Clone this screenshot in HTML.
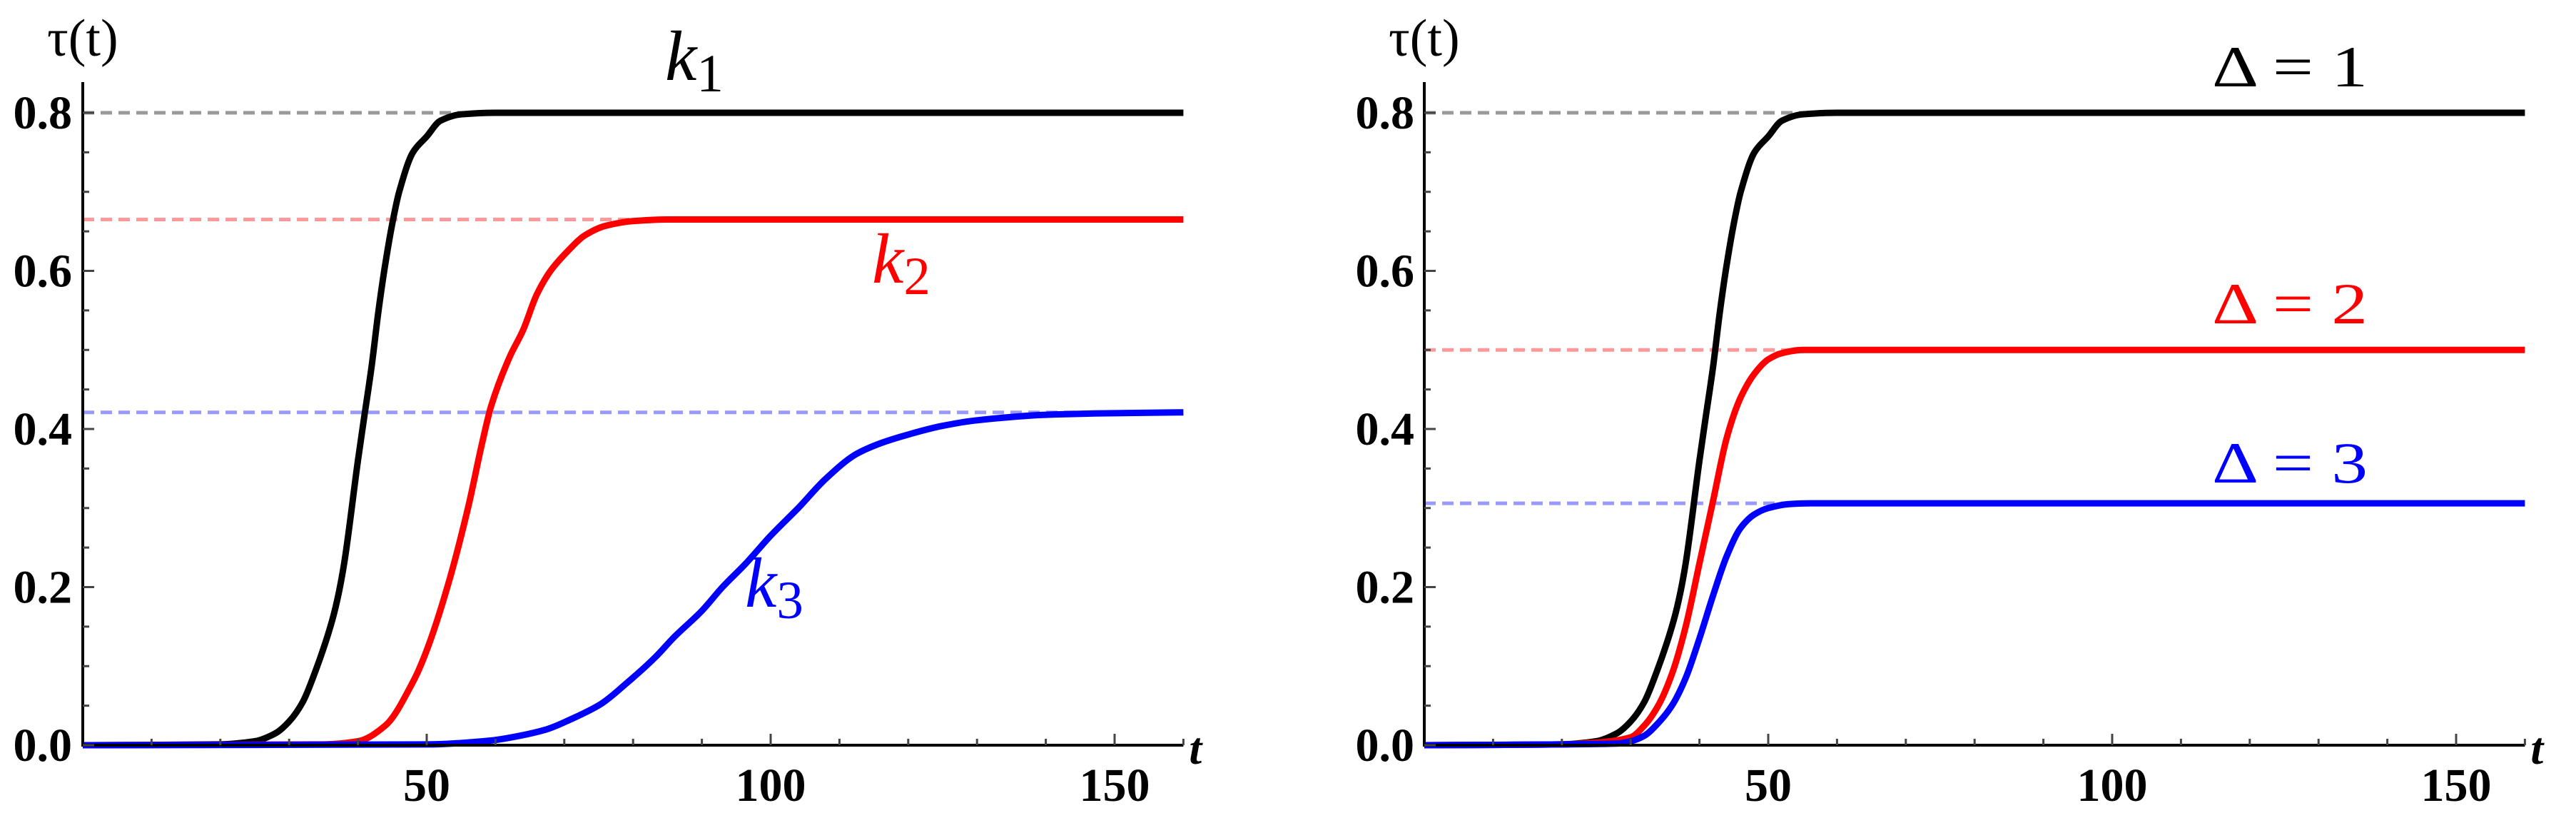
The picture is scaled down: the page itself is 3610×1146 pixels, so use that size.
<!DOCTYPE html>
<html><head><meta charset="utf-8"><style>
html,body{margin:0;padding:0;background:#fff;}
svg{display:block;}
</style></head><body>
<svg id="fig" width="3610" height="1146" xmlns="http://www.w3.org/2000/svg"></svg>
<script>
// ---- data ----
const xTicksMajor = [50, 100, 150];
const yTickLabels = ["0.0", "0.2", "0.4", "0.6", "0.8"];
const yTickValues = [0, 0.2, 0.4, 0.6, 0.8];

const k1T = [0, 20, 25, 28, 30, 32, 34, 36, 37, 38, 40, 41, 42, 43, 44, 45, 46, 48, 50, 52, 55, 60, 160];
const k1V = [0, 0.001, 0.005, 0.015, 0.03, 0.055, 0.098, 0.15, 0.184, 0.23, 0.36, 0.42, 0.48, 0.55, 0.61, 0.66, 0.70, 0.75, 0.77, 0.79, 0.798, 0.8, 0.8];
const k2T = [0, 35, 40, 44, 48, 50, 53, 56, 58, 59.4, 62, 64, 66, 68, 70.5, 73, 76, 80, 85, 160];
const k2V = [0, 0.001, 0.005, 0.025, 0.08, 0.12, 0.2, 0.3, 0.38, 0.43, 0.49, 0.525, 0.57, 0.60, 0.625, 0.645, 0.657, 0.663, 0.665, 0.665];
const k3T = [0, 50, 59.4, 63, 67.4, 71, 75.3, 79, 83.2, 86, 90, 93, 96.3, 100, 104, 108, 112.4, 116, 120, 125, 130, 140, 150, 160];
const k3V = [0, 0.001, 0.006, 0.011, 0.02, 0.033, 0.052, 0.078, 0.111, 0.137, 0.17, 0.2, 0.229, 0.265, 0.30, 0.337, 0.368, 0.382, 0.393, 0.404, 0.411, 0.418, 0.42, 0.421];

const d1T = k1T, d1V = k1V;
const d2T = [0, 20, 26, 30, 32, 34, 36, 38, 40, 42, 44, 46, 48, 50, 52, 55, 160];
const d2V = [0, 0.001, 0.004, 0.01, 0.025, 0.05, 0.09, 0.15, 0.23, 0.31, 0.39, 0.44, 0.47, 0.488, 0.496, 0.5, 0.5];
const d3T = [0, 20, 28, 30, 32, 34, 36, 38, 40, 42, 44, 46, 48, 50, 53, 56, 160];
const d3V = [0, 0.001, 0.002, 0.005, 0.012, 0.028, 0.05, 0.085, 0.135, 0.19, 0.24, 0.275, 0.292, 0.30, 0.305, 0.306, 0.306];

const leftPlateaus = [0.8, 0.665, 0.421];
const rightPlateaus = [0.8, 0.5, 0.306];

// ---- drawing ----
const NS = "http://www.w3.org/2000/svg";
const svg = document.getElementById('fig');
function el(tag, attrs, parent) {
  const e = document.createElementNS(NS, tag);
  for (const k in attrs) e.setAttribute(k, attrs[k]);
  (parent || svg).appendChild(e);
  return e;
}
const Y0 = 1044, PX_PER_UNIT_Y = 1107.5, PX_PER_T = 9.64, TMAX = 160;

function smoothPath(xs, ys) {
  const n = xs.length;
  const m = [];
  for (let i = 0; i < n; i++) {
    if (i === 0) m.push((ys[1] - ys[0]) / (xs[1] - xs[0]));
    else if (i === n - 1) m.push((ys[n - 1] - ys[n - 2]) / (xs[n - 1] - xs[n - 2]));
    else {
      const a = (ys[i] - ys[i - 1]) / (xs[i] - xs[i - 1]);
      const b = (ys[i + 1] - ys[i]) / (xs[i + 1] - xs[i]);
      m.push(a * b <= 0 ? 0 : 2 / (1 / a + 1 / b));
    }
  }
  let d = 'M' + xs[0].toFixed(1) + ',' + ys[0].toFixed(1);
  for (let i = 0; i < n - 1; i++) {
    const h = (xs[i + 1] - xs[i]) / 3;
    d += ' C' + (xs[i] + h).toFixed(1) + ',' + (ys[i] + m[i] * h).toFixed(1) + ' ' +
      (xs[i + 1] - h).toFixed(1) + ',' + (ys[i + 1] - m[i + 1] * h).toFixed(1) + ' ' +
      xs[i + 1].toFixed(1) + ',' + ys[i + 1].toFixed(1);
  }
  return d;
}

function panel(name, x0, labelX, series, plateaus) {
  const g = el('g', {});
  
  
  const sx = t => x0 + t * PX_PER_T;
  const sy = v => Y0 - v * PX_PER_UNIT_Y;
  const colors = ['#000', '#ff0000', '#0000ff'];
  const dashCols = ['#999999', '#ff9999', '#9999ff'];
  plateaus.forEach((p, i) => {
    const l = el('line', {x1: sx(0), x2: sx(TMAX), y1: sy(p), y2: sy(p), stroke: dashCols[i], 'stroke-width': 5, 'stroke-dasharray': '16 9'}, g);
    
    
  });
  series.forEach((s, i) => {
    const d = smoothPath(s[0].map(sx), s[1].map(sy));
    const p = el('path', {d: d, fill: 'none', stroke: colors[i], 'stroke-width': 9, 'stroke-linejoin': 'round'}, g);
    
    
  });
  const ax = el('line', {x1: x0, x2: x0, y1: 115, y2: Y0 + 2, stroke: '#000', 'stroke-width': 4}, g);
  
  
  const axx = el('line', {x1: x0 - 2, x2: sx(TMAX), y1: Y0, y2: Y0, stroke: '#000', 'stroke-width': 4}, g);
  
  
  for (let v = 0; v <= 0.801; v += 0.05) {
    const major = Math.abs(v / 0.2 - Math.round(v / 0.2)) < 1e-6;
    const tk = el('line', {x1: x0, x2: x0 + (major ? 16 : 9), y1: sy(v), y2: sy(v), stroke: '#444', 'stroke-width': 3}, g);
    
    
  }
  for (let t = 10; t <= TMAX; t += 10) {
    const major = t % 50 === 0;
    const tk = el('line', {x1: sx(t), x2: sx(t), y1: Y0, y2: Y0 - (major ? 16 : 9), stroke: '#444', 'stroke-width': 3}, g);
    
    
  }
  const font = '"Liberation Serif", serif';
  yTickValues.forEach((v, i) => {
    const tx = el('text', {x: labelX, y: sy(v) + 22, 'text-anchor': 'end', 'font-family': font, 'font-weight': 'bold', 'font-size': 66}, g);
    tx.textContent = yTickLabels[i];
    
    
  });
  xTicksMajor.forEach(t => {
    const tx = el('text', {x: sx(t), y: Y0 + 78, 'text-anchor': 'middle', 'font-family': font, 'font-weight': 'bold', 'font-size': 66}, g);
    tx.textContent = t;
    
    
  });
  const yt = el('text', {x: x0 - 50, y: 78, 'font-family': font, 'font-size': 74}, g);
  yt.textContent = 'τ(t)';
  
  
  const xt = el('text', {x: sx(TMAX) + 8, y: Y0 + 26, 'font-family': font, 'font-style': 'italic', 'font-weight': 'bold', 'font-size': 64}, g);
  xt.textContent = 't';
  
  
  return g;
}

const gl = panel('left-panel', 116, 101, [[k1T, k1V], [k2T, k2V], [k3T, k3V]], leftPlateaus);
const gr = panel('right-panel', 1996, 1982, [[d1T, d1V], [d2T, d2V], [d3T, d3V]], rightPlateaus);

function label(g, name, x, y, color, main, sub, size) {
  const t = el('text', {x: x, y: y, fill: color, 'font-family': '"Liberation Serif", serif', 'font-size': size}, g);
  
  
  const a = el('tspan', {'font-style': 'italic'}, t); a.textContent = main;
  if (sub) { const b = el('tspan', {dy: 16, 'font-size': size * 0.75}, t); b.textContent = sub; }
}
label(gl, 'label-k1', 932, 112, '#000', 'k', '1', 100);
label(gl, 'label-k2', 1222, 396, '#ff0000', 'k', '2', 100);
label(gl, 'label-k3', 1044, 850, '#0000ff', 'k', '3', 100);
function dlabel(g, name, y, color, txt) {
  const t = el('text', {x: 3100, y: y, fill: color, 'font-family': '"Liberation Serif", serif', 'font-size': 82, textLength: 218, lengthAdjust: 'spacingAndGlyphs'}, g);
  
  
  t.textContent = txt;
}
dlabel(gr, 'label-delta-1', 121, '#000', 'Δ = 1');
dlabel(gr, 'label-delta-2', 453, '#ff0000', 'Δ = 2');
dlabel(gr, 'label-delta-3', 676, '#0000ff', 'Δ = 3');
</script>
</body></html>
